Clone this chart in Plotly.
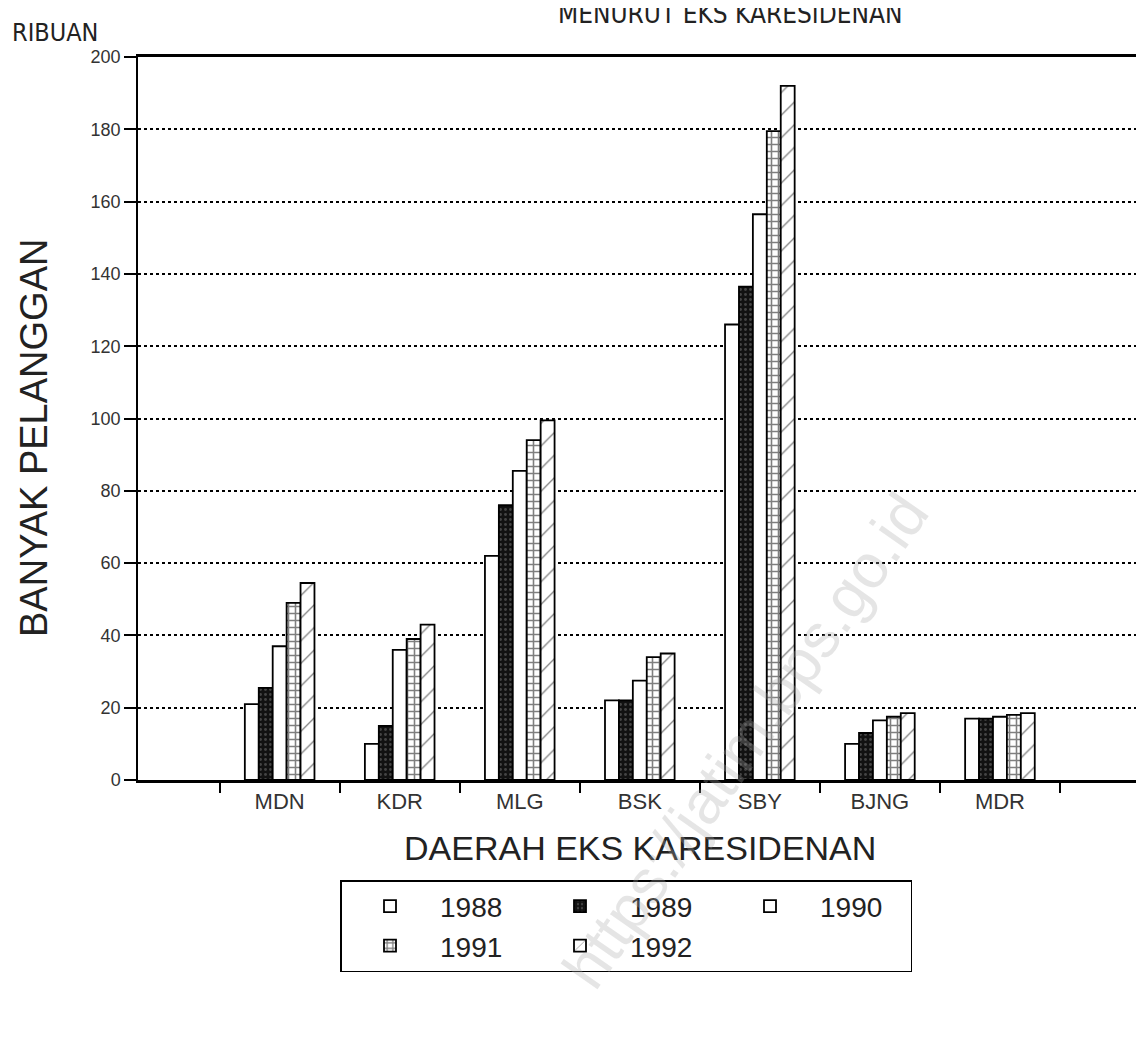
import plotly.graph_objects as go

daerah = ['MDN', 'KDR', 'MLG', 'BSK', 'SBY', 'BJNG', 'MDR']
tahun = ['1988', '1989', '1990', '1991', '1992']

# banyak pelanggan (ribuan)
pel_1988 = [21, 10, 62, 22, 126, 10, 17]
pel_1989 = [25.5, 15, 76, 22, 136.5, 13, 17]
pel_1990 = [37, 36, 85.5, 27.5, 156.5, 16.5, 17.5]
pel_1991 = [49, 39, 94, 34, 179.5, 17.5, 18]
pel_1992 = [54.5, 43, 99.5, 35, 192, 18.5, 18.5]

y_ticks = [0, 20, 40, 60, 80, 100, 120, 140, 160, 180, 200]

# legend columns: 1988/1991, 1989/1992, 1990
kolom_legend = ['a', 'b', 'c', 'a', 'b']

FONT = 'Liberation Sans, Arial, sans-serif'
NARROW = 'Liberation Sans Narrow, DejaVu Sans Condensed, Liberation Sans, sans-serif'

# plot area in page pixels; the page puts the figure 8px in from the corner
OFF = 8
L, R, T, B = 138, 1144, 57, 780
W, H = 1144, 1059


def px_x(x):
    return (x - L) / (R - L)


def px_y(y):
    return (B - y) / (B - T)


def bar_style(i):
    if i == 1:
        return dict(color='#111111', line=dict(color='black', width=1.8),
                    pattern=dict(shape='.', fgcolor='#777777', bgcolor='#111111', size=5, solidity=0.25))
    if i == 3:
        return dict(color='white', line=dict(color='black', width=1.8),
                    pattern=dict(shape='+', fgcolor='black', bgcolor='white', size=7, solidity=0.4))
    if i == 4:
        return dict(color='white', line=dict(color='black', width=1.8),
                    pattern=dict(shape='/', fgcolor='black', bgcolor='white', size=16, solidity=0.08))
    return dict(color='white', line=dict(color='black', width=1.8))


def create_fig():
    fig = go.Figure()
    series = [pel_1988, pel_1989, pel_1990, pel_1991, pel_1992]
    for i, (nama, nilai) in enumerate(zip(tahun, series)):
        fig.add_trace(go.Bar(x=daerah, y=nilai, name=nama, marker=bar_style(i),
                             legendgroup=kolom_legend[i]))

    fig.update_layout(
        width=W, height=H,
        margin=dict(l=L - OFF, r=W + OFF - R, t=T - OFF, b=H + OFF - B),
        plot_bgcolor='white', paper_bgcolor='white',
        barmode='group', bargap=0.42, bargroupgap=0,
        font=dict(family=FONT, color='#222222'),
        legend=dict(orientation='h', xref='container', yref='container',
                    x=(340 - OFF) / W, y=1 - (880 - OFF) / H, xanchor='left', yanchor='top',
                    traceorder='grouped', tracegroupgap=10,
                    bordercolor='black', borderwidth=1.5, bgcolor='white',
                    font=dict(size=28, color='#222222'),
                    entrywidth=85, entrywidthmode='pixels', itemwidth=90),
    )
    fig.update_xaxes(type='category', range=[-1.18, 7.2], tickson='boundaries',
                     ticks='outside', ticklen=10, tickcolor='black', tickwidth=1.5,
                     showline=True, linecolor='black', linewidth=2.5, mirror=True,
                     showgrid=False, tickfont=dict(size=22, color='#333333'))
    fig.update_yaxes(range=[0, 200], tickvals=y_ticks, ticks='outside', ticklen=12,
                     tickcolor='black', tickwidth=1.5, showline=True, linecolor='black',
                     linewidth=1.5, showgrid=True, gridcolor='black', griddash='dot',
                     gridwidth=1.5, zeroline=False, tickfont=dict(size=18, color='#333333'))

    notes = [
        dict(text='RIBUAN', x=px_x(55), y=px_y(33), size=25, angle=0, fam=NARROW),
        dict(text='MENURUT EKS KARESIDENAN', x=px_x(730), y=px_y(14), size=26, angle=0, fam=NARROW),
        dict(text='BANYAK PELANGGAN', x=px_x(34), y=px_y(438), size=38, angle=-90, fam=FONT),
        dict(text='DAERAH EKS KARESIDENAN', x=px_x(640), y=px_y(848), size=34, angle=0, fam=FONT),
    ]
    for n in notes:
        fig.add_annotation(text=n['text'], x=n['x'], y=n['y'], xref='paper', yref='paper',
                           xanchor='center', yanchor='middle',
                           showarrow=False, textangle=n['angle'],
                           font=dict(size=n['size'], family=n['fam'], color='#222222'))
    # watermark
    fig.add_annotation(text='https://jatim.bps.go.id', x=px_x(745), y=px_y(740),
                       xref='paper', yref='paper', xanchor='center', yanchor='middle',
                       showarrow=False, textangle=-55,
                       font=dict(size=62, family=FONT, color='rgba(170,170,170,0.3)'))
    return fig


fig = create_fig()
fig.write_html('out.html')
